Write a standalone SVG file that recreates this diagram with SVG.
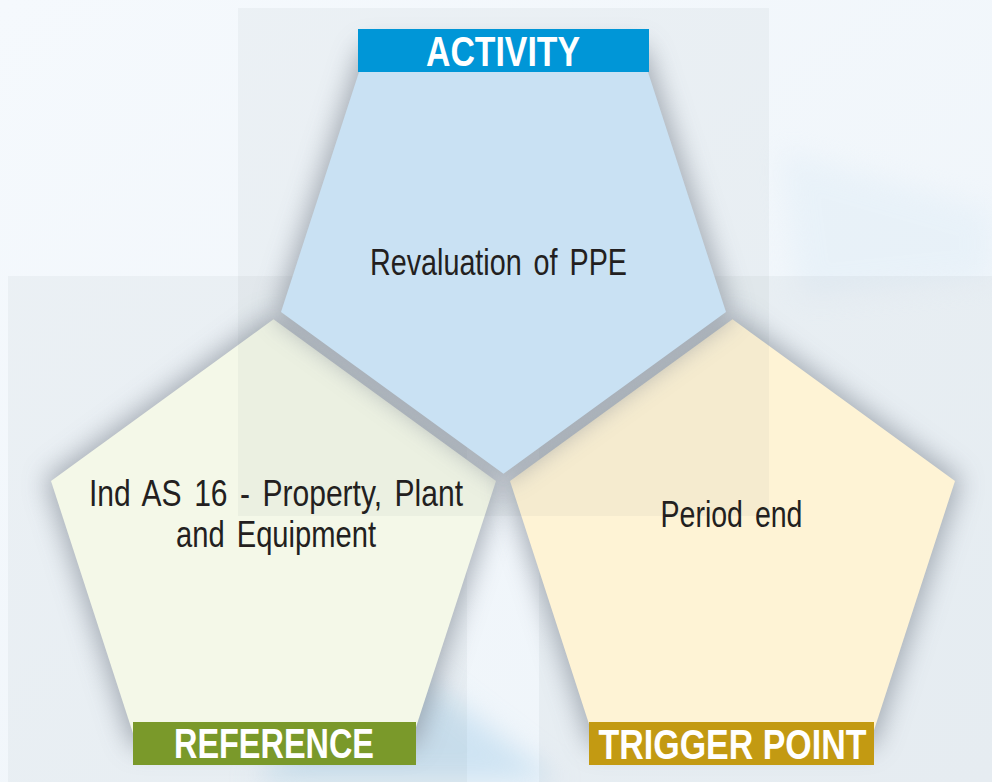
<svg xmlns="http://www.w3.org/2000/svg" width="992" height="782" viewBox="0 0 992 782">
  <defs>
    <filter id="shadow" x="-25%" y="-25%" width="150%" height="150%">
      <feGaussianBlur stdDeviation="13"/>
    </filter>
    <filter id="glow" x="-30%" y="-30%" width="160%" height="160%">
      <feGaussianBlur stdDeviation="14"/>
    </filter>
    <linearGradient id="bgGrad" x1="0" y1="0" x2="1" y2="1">
      <stop offset="0" stop-color="#f5f9fd"/>
      <stop offset="1" stop-color="#eef4f9"/>
    </linearGradient>
    <style>
      .panel { fill: #6b7178; fill-opacity: 0.06; }
      .shade { fill: #858d98; stroke: #858d98; stroke-width: 10; stroke-linejoin: round; opacity: 0.7; filter: url(#shadow); }
      .body { font-family: "Liberation Sans Narrow", "Liberation Sans", Arial, sans-serif; font-size: 36px; fill: #231f20; text-anchor: middle; word-spacing: 5px; }
      .head { font-family: "Liberation Sans Narrow", "Liberation Sans", Arial, sans-serif; font-size: 43px; font-weight: bold; fill: #ffffff; text-anchor: middle; }
    </style>
  </defs>

  <!-- background -->
  <rect x="0" y="0" width="992" height="782" fill="url(#bgGrad)"/>
  <polygon points="250,782 400,660 560,782" fill="#b8d8ee" opacity="0.6" filter="url(#glow)"/>
  <polygon points="780,150 992,210 992,280 800,300" fill="#dcebf6" opacity="0.4" filter="url(#glow)"/>
  <rect class="panel" x="8" y="276" width="459" height="506"/>
  <rect class="panel" x="539" y="276" width="453" height="506"/>

  <!-- reference node -->
  <g id="node-reference">
    <polygon class="shade" points="273.5,319.3 496,481 411,742.6 136,742.6 51,481"/>
    <polygon points="273.5,319.3 496,481 411,742.6 136,742.6 51,481" fill="#f4f8e8"/>
  </g>

  <!-- trigger point node -->
  <g id="node-trigger">
    <polygon class="shade" points="732.5,319.3 955,481 870,742.6 595,742.6 510,481"/>
    <polygon points="732.5,319.3 955,481 870,742.6 595,742.6 510,481" fill="#fef3d5"/>
  </g>

  <rect class="panel" x="238" y="8" width="531" height="508"/>

  <!-- activity node -->
  <g id="node-activity">
    <polygon class="shade" points="366,50.4 641,50.4 726,312 503.5,473.7 281,312"/>
    <polygon points="366,50.4 641,50.4 726,312 503.5,473.7 281,312" fill="#c9e1f3"/>
    <rect x="358" y="29" width="291" height="43" fill="#0096d7"/>
    <text class="head" x="503" y="66" textLength="154" lengthAdjust="spacingAndGlyphs">ACTIVITY</text>
    <text class="body" x="498.5" y="275" textLength="257" lengthAdjust="spacingAndGlyphs">Revaluation of PPE</text>
  </g>

  <g id="node-reference-text">
    <rect x="133" y="722" width="283" height="43" fill="#7a992a"/>
    <text class="head" x="274" y="758" textLength="200" lengthAdjust="spacingAndGlyphs">REFERENCE</text>
    <text class="body" x="276" y="506" textLength="374" lengthAdjust="spacingAndGlyphs">Ind AS 16 - Property, Plant</text>
    <text class="body" x="276" y="547" textLength="200" lengthAdjust="spacingAndGlyphs">and Equipment</text>
  </g>

  <g id="node-trigger-text">
    <rect x="589" y="722" width="285" height="43" fill="#c39a12"/>
    <text class="head" x="732.5" y="759" textLength="268" lengthAdjust="spacingAndGlyphs">TRIGGER POINT</text>
    <text class="body" x="731.5" y="527" textLength="142" lengthAdjust="spacingAndGlyphs">Period end</text>
  </g>

  <g id="connectors"/>
</svg>
